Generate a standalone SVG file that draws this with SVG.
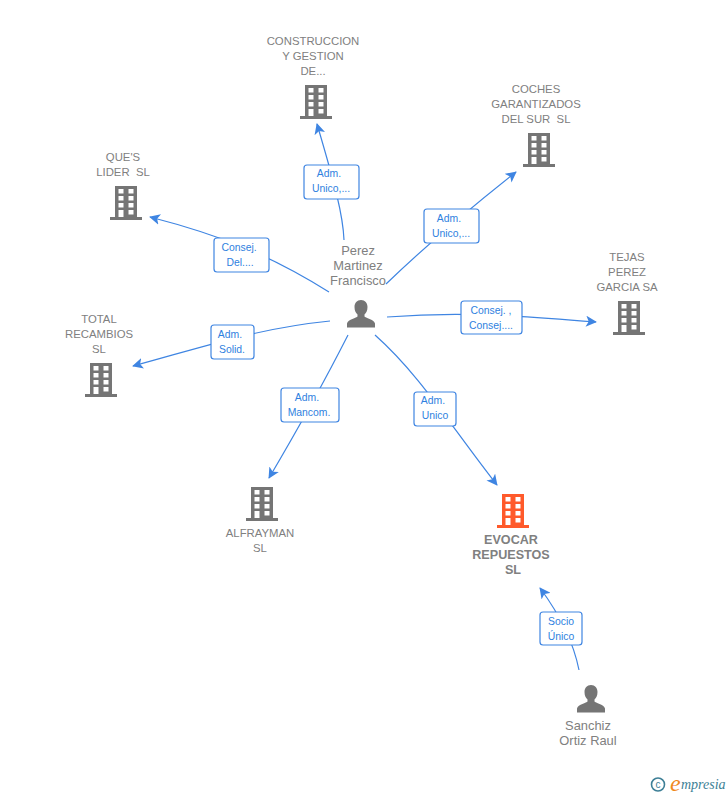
<svg xmlns="http://www.w3.org/2000/svg" xmlns:xlink="http://www.w3.org/1999/xlink" width="728" height="795" viewBox="0 0 728 795">
<style>
text{font-family:"Liberation Sans",Arial,sans-serif;white-space:pre}
.n{font-size:11.35px;fill:#808080;text-anchor:middle}
.p{font-size:12.9px;fill:#808080;text-anchor:middle}
.m{font-weight:bold;fill:#808080;text-anchor:middle;font-size:12.6px}
.l{font-size:10.4px;fill:#2f7fe0;text-anchor:middle}
.c{fill:none;stroke:#3f85e2;stroke-width:1.2;marker-end:url(#a)}
.b{fill:#fff;stroke:#3f85e2;stroke-width:1.2}
</style>
<defs>
<marker id="a" markerUnits="userSpaceOnUse" markerWidth="11" markerHeight="11" refX="11" refY="6" orient="auto" viewBox="0 0 12 12"><path d="M0 0L12 6L0 12L3 6Z" fill="#3f85e2"/></marker>
<path id="bld" fill-rule="evenodd" d="M-11-17H11V14H16V17H-16V14H-11ZM-7.500-14V-9.500H-2.500V-14ZM2.500-14V-9.500H7.500V-14ZM-7.500-7V-2.500H-2.500V-7ZM2.500-7V-2.500H7.500V-7ZM-7.500 0V4.500H-2.500V0ZM2.500 0V4.500H7.500V0ZM-7.500 7V14H-2.500V7ZM2.500 7V11.500H7.500V7Z"/>
<path id="per" d="M0-14C4-14 6.500-11 6.500-7C6.500-3 5-1 3.500 0.500V2.500C4 4 13 5 14 9.500V13.500H-14V9.500C-13 5-4 4-3.500 2.500V0.500C-5-1-6.500-3-6.500-7C-6.500-11-4-14 0-14Z"/>
</defs>
<g id="connectors">
<path class="c" d="M344 240C343 215 335 185 317 124"/>
<path class="c" d="M386 284Q440 232 516 172"/>
<path class="c" d="M387 317C450 312 500 314 596 322"/>
<path class="c" d="M375 335C420 375 450 425 497 485"/>
<path class="c" d="M348 335Q315 400 269 478"/>
<path class="c" d="M330 321C260 328 210 345 133 366"/>
<path class="c" d="M329 292C270 255 220 235 150 217"/>
<path class="c" d="M579 670C573 640 560 615 540 588"/>
</g>
<g id="label-1"><rect class="b" x="304" y="165" width="55" height="34" rx="3"/><text class="l" x="329" y="177">Adm.</text><text class="l" x="331" y="192">Unico,...</text></g>
<g id="label-2"><rect class="b" x="424" y="209" width="55" height="34" rx="3"/><text class="l" x="449" y="222">Adm.</text><text class="l" x="451" y="237">Unico,...</text></g>
<g id="label-3"><rect class="b" x="461" y="301" width="61" height="33" rx="3"/><text class="l" x="491" y="314">Consej. ,</text><text class="l" x="491" y="329">Consej....</text></g>
<g id="label-4"><rect class="b" x="414" y="392" width="42" height="34" rx="3"/><text class="l" x="433" y="404">Adm.</text><text class="l" x="435" y="419">Unico</text></g>
<g id="label-5"><rect class="b" x="281" y="388" width="58" height="34" rx="3"/><text class="l" x="307" y="401">Adm.</text><text class="l" x="309" y="416">Mancom.</text></g>
<g id="label-6"><rect class="b" x="211" y="325" width="43" height="34" rx="3"/><text class="l" x="230" y="338">Adm.</text><text class="l" x="232" y="353">Solid.</text></g>
<g id="label-7"><rect class="b" x="214" y="238" width="55" height="34" rx="3"/><text class="l" x="239" y="251">Consej.</text><text class="l" x="240" y="266">Del....</text></g>
<g id="label-8"><rect class="b" x="540" y="612" width="42" height="33" rx="3"/><text class="l" x="561" y="625">Socio</text><text class="l" x="561" y="640">Único</text></g>
<g id="node-construccion"><use xlink:href="#bld" href="#bld" x="316" y="102" fill="#757575"/><text class="n" x="313" y="45">CONSTRUCCION</text><text class="n" x="313" y="60">Y GESTION</text><text class="n" x="313" y="75">DE...</text></g>
<g id="node-coches"><use xlink:href="#bld" href="#bld" x="539" y="150" fill="#757575"/><text class="n" x="536" y="93">COCHES</text><text class="n" x="536" y="108">GARANTIZADOS</text><text class="n" x="536" y="123">DEL SUR  SL</text></g>
<g id="node-ques"><use xlink:href="#bld" href="#bld" x="126" y="203" fill="#757575"/><text class="n" x="123" y="161">QUE'S</text><text class="n" x="123" y="176">LIDER  SL</text></g>
<g id="node-tejas"><use xlink:href="#bld" href="#bld" x="629" y="318" fill="#757575"/><text class="n" x="627" y="261">TEJAS</text><text class="n" x="627" y="276">PEREZ</text><text class="n" x="627" y="291">GARCIA SA</text></g>
<g id="node-total"><use xlink:href="#bld" href="#bld" x="101" y="380" fill="#757575"/><text class="n" x="99" y="323">TOTAL</text><text class="n" x="99" y="338">RECAMBIOS</text><text class="n" x="99" y="353">SL</text></g>
<g id="node-alfrayman"><use xlink:href="#bld" href="#bld" x="262" y="504" fill="#757575"/><text class="n" x="260" y="537">ALFRAYMAN</text><text class="n" x="260" y="552">SL</text></g>
<g id="node-evocar"><use xlink:href="#bld" href="#bld" x="513" y="511" fill="#ff5a2b"/><text class="m" x="511" y="544">EVOCAR</text><text class="m" x="511" y="559">REPUESTOS</text><text class="m" x="513" y="574">SL</text></g>
<g id="node-perez"><use xlink:href="#per" href="#per" x="361" y="314" fill="#757575"/><text class="p" x="358" y="255">Perez</text><text class="p" x="358" y="270">Martinez</text><text class="p" x="358" y="285">Francisco</text></g>
<g id="node-sanchiz"><use xlink:href="#per" href="#per" x="591" y="699" fill="#757575"/><text class="p" x="588" y="730">Sanchiz</text><text class="p" x="588" y="745">Ortiz Raul</text></g>
<g id="logo"><circle cx="658" cy="784.500" r="6.500" fill="none" stroke="#3d7f96" stroke-width="1.600"/><text x="658" y="788" font-size="10" fill="#3d7f96" text-anchor="middle">c</text><text x="670" y="791" style="font-family:'Liberation Serif',serif" font-size="24" font-style="italic" fill="#f08a1c">e</text><text x="681" y="789" style="font-family:'Liberation Serif',serif" font-size="14" font-style="italic" fill="#3d7f96">mpresia</text></g>
</svg>
